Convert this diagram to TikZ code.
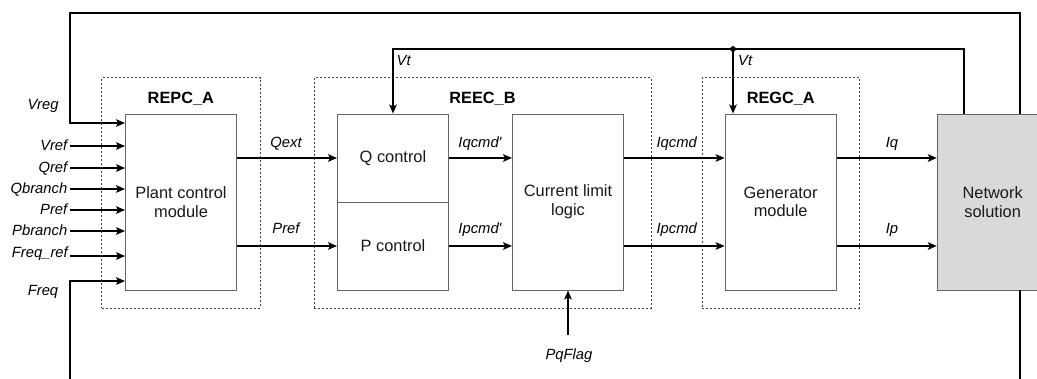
\documentclass[tikz,border=0pt]{standalone}
\usepackage{fontspec}
\setmainfont{Liberation Sans}
\usetikzlibrary{arrows.meta}
\definecolor{netgray}{RGB}{217,217,217}
\definecolor{boxline}{RGB}{100,100,100}
\begin{document}
\begin{tikzpicture}[x=1pt,y=-1pt,
  box/.style={draw=boxline, line width=0.9pt, fill=white, minimum width=111pt,
    inner sep=0pt, align=center, text=black!90, font=\fontsize{16.4}{18.5}\selectfont},
  grp/.style={draw=black!75, line width=0.8pt, dash pattern=on 2pt off 2pt,
    minimum height=230.3pt, inner sep=0pt},
  sig/.style={line width=1.9pt, -{Stealth[length=9pt,width=7.5pt,inset=2pt]}},
  wire/.style={line width=1.9pt},
  lab/.style={font=\fontsize{14.8}{17}\selectfont\itshape, inner sep=0pt},
  ttl/.style={font=\fontsize{16.3}{19}\selectfont\bfseries, inner sep=0pt}
]
\clip (0,0) rectangle (1037,378);

% group frames
\node[grp, minimum width=158.3pt] (repc) at (180.85,192.85) {};
\node[grp, minimum width=336.7pt] (reec) at (482.65,192.85) {};
\node[grp, minimum width=157pt] (regc) at (780.8,192.85) {};
\node[ttl, anchor=base] (repct) at (180.8,103) {REPC\_A};
\node[ttl, anchor=base] (reect) at (482.5,103) {REEC\_B};
\node[ttl, anchor=base] (regct) at (780.8,103) {REGC\_A};

% blocks
\node[box, minimum height=176pt] (plant) at (181,202) {Plant control\\module};
\node[box, minimum height=88pt] (qctl) at (393,158) {Q control};
\node[box, minimum height=88pt] (pctl) at (393,246) {P control};
\node[box, minimum height=176pt] (cll) at (568,202) {Current limit\\logic};
\node[box, minimum height=176pt] (gen) at (780.65,202) {Generator\\module};
\node[box, minimum height=176pt, fill=netgray, minimum width=110.7pt] (net) at (992.65,202) {Network\\solution};

% outer loop coordinates
\coordinate (tl) at (70,13);
\coordinate (tr) at (1020,13);
\coordinate (vregk) at (70,123);
\coordinate (bl) at (70,390);
\coordinate (br) at (1020,390);
\coordinate (fqk) at (70,281);

\draw[sig] (net.north -| tr) -- (tr) -- (tl) -- (vregk) -- (vregk -| plant.west);
\draw[sig] (bl) -- (fqk) -- (fqk -| plant.west);
\draw[wire] (net.south -| br) -- (br);
\node[lab, anchor=base] (lvreg) at (43,109) {Vreg};
\node[lab, anchor=base] (lfreq) at (43,295) {Freq};

% plant inputs
\coordinate (sa) at (70,146);
\coordinate (sb) at (70,168);
\coordinate (sc) at (70,189);
\coordinate (sd) at (70,210);
\coordinate (se) at (70,231);
\coordinate (sf) at (70,256);
\draw[sig] (sa) -- (sa -| plant.west);
\draw[sig] (sb) -- (sb -| plant.west);
\draw[sig] (sc) -- (sc -| plant.west);
\draw[sig] (sd) -- (sd -| plant.west);
\draw[sig] (se) -- (se -| plant.west);
\draw[sig] (sf) -- (sf -| plant.west);
\node[lab, anchor=base east] (la) at (67.5,150) {Vref};
\node[lab, anchor=base east] (lb) at (67.5,172) {Qref};
\node[lab, anchor=base east] (lc) at (67.5,193.6) {Qbranch};
\node[lab, anchor=base east] (ld) at (67.5,214.3) {Pref};
\node[lab, anchor=base east] (le) at (67.5,235) {Pbranch};
\node[lab, anchor=base east] (lf) at (68,257.5) {Freq\_ref};

% Vt feedback
\coordinate (vtj) at (733,49);
\coordinate (vtr) at (964,49);
\draw[sig] (net.north -| vtr) -- (vtr) -- (vtj -| qctl.north) -- (qctl.north);
\draw[sig] (vtj) -- (vtj |- gen.north);
\fill (vtj) circle[radius=2.9pt];
\node[lab, anchor=base west] (vt1) at (396.5,65) {Vt};
\node[lab, anchor=base west] (vt2) at (738,65) {Vt};

% forward signals
\draw[sig] (plant.east |- qctl.west) -- (qctl.west);
\draw[sig] (plant.east |- pctl.west) -- (pctl.west);
\draw[sig] (qctl.east) -- (qctl.east -| cll.west);
\draw[sig] (pctl.east) -- (pctl.east -| cll.west);
\draw[sig] (qctl.east -| cll.east) -- (qctl.east -| gen.west);
\draw[sig] (pctl.east -| cll.east) -- (pctl.east -| gen.west);
\draw[sig] (qctl.east -| gen.east) -- (qctl.east -| net.west);
\draw[sig] (pctl.east -| gen.east) -- (pctl.east -| net.west);
\node[lab, anchor=base] (lqext) at (286,147) {Qext};
\node[lab, anchor=base] (lpref) at (286,233) {Pref};
\node[lab, anchor=base] (liqp) at (480,147) {Iqcmd\textquotesingle};
\node[lab, anchor=base] (lipp) at (480,233) {Ipcmd\textquotesingle};
\node[lab, anchor=base] (liq) at (676.7,147) {Iqcmd};
\node[lab, anchor=base] (lip) at (676.7,233) {Ipcmd};
\node[lab, anchor=base] (lq) at (892,147) {Iq};
\node[lab, anchor=base] (lp) at (892,233) {Ip};

% PqFlag
\coordinate (pq) at (568,335);
\draw[sig] (pq) -- (cll.south);
\node[lab, anchor=base] (lpq) at (569,359) {PqFlag};
\end{tikzpicture}
\end{document}
